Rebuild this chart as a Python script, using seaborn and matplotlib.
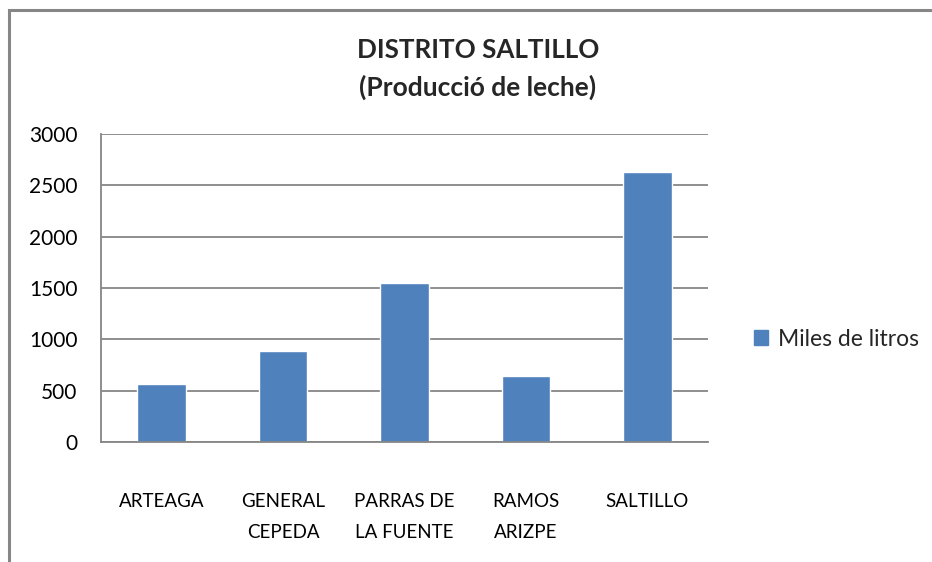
import matplotlib
matplotlib.use('Agg')
import matplotlib.pyplot as plt
from matplotlib.patches import Rectangle
import seaborn as sns
import pandas as pd
import numpy as np

# data
municipios = ['ARTEAGA', 'GENERAL\nCEPEDA', 'PARRAS DE\nLA FUENTE', 'RAMOS\nARIZPE', 'SALTILLO']
miles_litros = [566, 888, 1552, 644, 2626]
y_ticks = [0, 500, 1000, 1500, 2000, 2500, 3000]
serie = 'Miles de litros'

df = pd.DataFrame({'Municipio': municipios, 'Valor': miles_litros, 'Serie': serie})

sns.set_theme(style='white')
plt.rcParams['font.family'] = ['Lato', 'DejaVu Sans']

grid_color = '#868686'
bar_color = '#4F81BD'

fig = plt.figure(figsize=(9.32, 5.62), dpi=100)
ax = fig.add_axes([101 / 932, 1 - 442 / 562, 607 / 932, 308 / 562])

sns.barplot(data=df, x='Municipio', y='Valor', hue='Serie', palette=[bar_color],
            width=0.4, ax=ax, legend=False, saturation=1)

ax.set_xlim(-0.5, len(municipios) - 0.5)
ax.set_ylim(0, 3000)
ax.set_yticks(y_ticks)
ax.set_yticklabels([str(v) for v in y_ticks], fontsize=15, color='black')
ax.yaxis.grid(True, color=grid_color, linewidth=1.3)
ax.set_axisbelow(True)

# boundary ticks like Excel, labels centered on categories
ax.set_xticks(np.arange(-0.5, len(municipios), 1.0))
ax.set_xticklabels([])
ax.set_xticks(np.arange(len(municipios)), minor=True)
ax.set_xticklabels(municipios, minor=True, fontsize=13.5, color='black', linespacing=1.95)
ax.tick_params(axis='x', which='major', length=10, width=1.3, color=grid_color, direction='out')
ax.tick_params(axis='x', which='minor', length=0, pad=37)
ax.tick_params(axis='y', length=7, width=1.3, color=grid_color, direction='out', pad=10)
for lbl in ax.get_xticklabels(minor=True):
    lbl.set_verticalalignment('top')

ax.set_xlabel('')
ax.set_ylabel('')
for side in ['top', 'right']:
    ax.spines[side].set_visible(False)
ax.spines['left'].set_color(grid_color)
ax.spines['bottom'].set_color(grid_color)
ax.spines['left'].set_linewidth(1.3)
ax.spines['bottom'].set_linewidth(1.3)

fig.text(478 / 932, 1 - 50 / 562, 'DISTRITO SALTILLO', ha='center', va='center',
         fontsize=18.7, fontweight='bold')
fig.text(478 / 932, 1 - 87 / 562, '(Producció de leche)', ha='center', va='center',
         fontsize=19, fontweight='bold')

# legend
handle = Rectangle((0, 0), 1, 1, color=bar_color)
fig.legend([handle], [serie], loc='center left', bbox_to_anchor=(733 / 932, 1 - 339 / 562),
           frameon=False, fontsize=16.5, handlelength=0.62, handleheight=0.62, handletextpad=0.45)

# chart area border
fig.add_artist(Rectangle((9 / 932, -0.1), 1.0, 1.1 - 10 / 562, transform=fig.transFigure,
                         fill=False, edgecolor=grid_color, linewidth=2.2))

fig.savefig('out.png', dpi=100, facecolor='white')
